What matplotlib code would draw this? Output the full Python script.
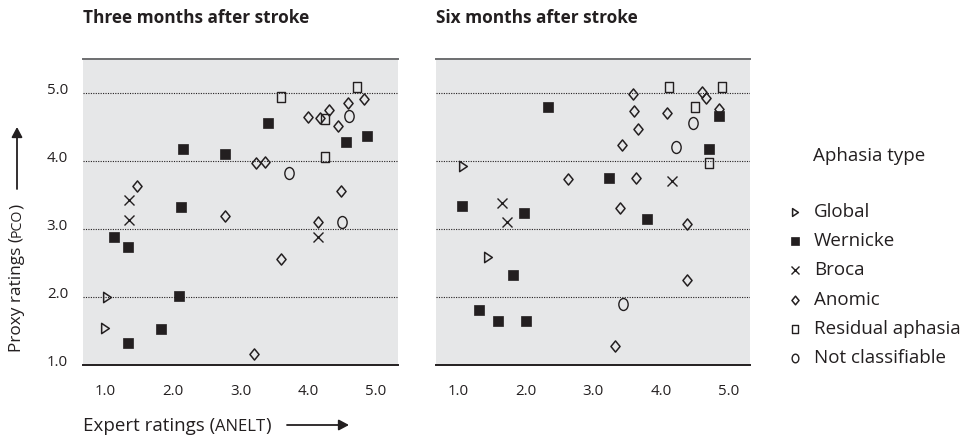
import matplotlib
matplotlib.use("Agg")
import matplotlib.pyplot as plt
from matplotlib.lines import Line2D
from matplotlib.path import Path
from matplotlib.patches import FancyArrowPatch
from matplotlib.transforms import Affine2D, ScaledTranslation
import numpy as np

plt.rcParams['font.family'] = ['Open Sans', 'DejaVu Sans']

titles = ["Three months after stroke", "Six months after stroke"]
types = ["Global", "Wernicke", "Broca", "Anomic", "Residual aphasia", "Not classifiable"]
ticks = [1.0, 2.0, 3.0, 4.0, 5.0]
tick_labels = ["1.0", "2.0", "3.0", "4.0", "5.0"]

# Three months after stroke
m3_global_x = [1.02, 0.99]
m3_global_y = [2.00, 1.54]
m3_wernicke_x = [3.40, 4.55, 4.87, 2.15, 2.76, 2.11, 1.12, 1.33, 2.08, 1.82, 1.33]
m3_wernicke_y = [4.56, 4.28, 4.37, 4.17, 4.10, 3.32, 2.88, 2.74, 2.01, 1.53, 1.32]
m3_broca_x = [1.34, 1.34, 4.14]
m3_broca_y = [3.42, 3.13, 2.88]
m3_anomic_x = [4.82, 4.59, 4.31, 3.99, 4.17, 4.43, 3.22, 3.35, 1.47, 4.48, 2.76, 4.14, 3.60, 3.19]
m3_anomic_y = [4.91, 4.85, 4.75, 4.65, 4.63, 4.51, 3.97, 3.98, 3.63, 3.56, 3.19, 3.10, 2.56, 1.16]
m3_residual_x = [3.60, 4.72, 4.25, 4.25]
m3_residual_y = [4.94, 5.09, 4.62, 4.06]
m3_notcl_x = [4.60, 3.71, 4.49]
m3_notcl_y = [4.66, 3.83, 3.11]

# Six months after stroke
m6_global_x = [1.07, 1.45]
m6_global_y = [3.93, 2.59]
m6_wernicke_x = [2.33, 4.86, 4.72, 3.24, 1.06, 1.97, 3.80, 1.82, 1.31, 1.59, 2.00]
m6_wernicke_y = [4.80, 4.66, 4.17, 3.75, 3.34, 3.24, 3.15, 2.32, 1.81, 1.64, 1.64]
m6_broca_x = [4.16, 1.65, 1.73]
m6_broca_y = [3.71, 3.38, 3.10]
m6_anomic_x = [3.59, 4.61, 4.67, 3.61, 4.09, 4.86, 3.67, 3.43, 2.63, 3.64, 3.40, 4.39, 4.39, 3.32]
m6_anomic_y = [4.99, 5.01, 4.93, 4.74, 4.71, 4.77, 4.47, 4.24, 3.74, 3.75, 3.31, 3.08, 2.25, 1.28]
m6_residual_x = [4.12, 4.90, 4.50, 4.71]
m6_residual_y = [5.09, 5.09, 4.80, 3.97]
m6_notcl_x = [4.48, 4.22, 3.44]
m6_notcl_y = [4.56, 4.21, 1.90]

INK = '#231f20'
BG = '#e6e7e8'

diamond = Path([(0, 1), (0.82, 0), (0, -1), (-0.82, 0), (0, 1)],
               [Path.MOVETO, Path.LINETO, Path.LINETO, Path.LINETO, Path.CLOSEPOLY])
ellipse = Affine2D().scale(0.78, 1.0).transform_path(Path.unit_circle())
rect = Path([(-0.8, -1), (0.8, -1), (0.8, 1), (-0.8, 1), (-0.8, -1)],
            [Path.MOVETO, Path.LINETO, Path.LINETO, Path.LINETO, Path.CLOSEPOLY])
tri = Path([(-0.75, -1), (0.75, 0), (-0.75, 1), (-0.75, -1)],
           [Path.MOVETO, Path.LINETO, Path.LINETO, Path.CLOSEPOLY])

styles = {
    "Global": dict(marker=tri, ms=7.4, mfc='none', mec=INK, mew=1.1),
    "Wernicke": dict(marker='s', ms=7.6, mfc=INK, mec=INK, mew=0.5),
    "Broca": dict(marker='x', ms=6.8, mec=INK, mew=1.0),
    "Anomic": dict(marker=diamond, ms=8.0, mfc='none', mec=INK, mew=1.1),
    "Residual aphasia": dict(marker=rect, ms=7.8, mfc='none', mec=INK, mew=1.0),
    "Not classifiable": dict(marker=ellipse, ms=8.6, mfc='none', mec=INK, mew=1.0),
}

panels = [
    [(m3_global_x, m3_global_y), (m3_wernicke_x, m3_wernicke_y), (m3_broca_x, m3_broca_y),
     (m3_anomic_x, m3_anomic_y), (m3_residual_x, m3_residual_y), (m3_notcl_x, m3_notcl_y)],
    [(m6_global_x, m6_global_y), (m6_wernicke_x, m6_wernicke_y), (m6_broca_x, m6_broca_y),
     (m6_anomic_x, m6_anomic_y), (m6_residual_x, m6_residual_y), (m6_notcl_x, m6_notcl_y)],
]

W, H = 963, 437
fig = plt.figure(figsize=(W / 100, H / 100), dpi=100)
fig.patch.set_facecolor('white')

def px_rect(x0, y0, x1, y1):
    return [x0 / W, 1 - y1 / H, (x1 - x0) / W, (y1 - y0) / H]

axes = [fig.add_axes(px_rect(83.3, 59, 397.7, 365)),
        fig.add_axes(px_rect(435.7, 59, 750, 365))]

for i, ax in enumerate(axes):
    ax.set_facecolor(BG)
    ax.set_xlim(0.67, 5.32)
    ax.set_ylim(1.0, 5.5)
    for s in ['left', 'right']:
        ax.spines[s].set_visible(False)
    ax.spines['top'].set_color('#6d6e70')
    ax.spines['top'].set_linewidth(1.4)
    ax.spines['bottom'].set_color(INK)
    ax.spines['bottom'].set_linewidth(1.4)
    for g in [2.0, 3.0, 4.0, 5.0]:
        ax.axhline(g, color=INK, lw=0.8, ls=(0, (1, 1.2)), zorder=1)
    for name, (xs, ys) in zip(types, panels[i]):
        ax.plot(xs, ys, ls='none', zorder=3, **styles[name])
    ax.set_xticks(ticks)
    ax.set_xticklabels(tick_labels)
    ax.tick_params(axis='x', length=0, pad=14, labelsize=10.8, labelcolor=INK)
    if i == 0:
        ax.set_yticks(ticks)
        ax.set_yticklabels(tick_labels)
        ax.tick_params(axis='y', length=0, pad=11, labelsize=10.8, labelcolor=INK)
        off = ScaledTranslation(0, 4 / 100, fig.dpi_scale_trans)
        for lab in ax.get_yticklabels():
            lab.set_transform(lab.get_transform() + off)
    else:
        ax.set_yticks([])
    fig.text((83.3 if i == 0 else 435.7) / W, 1 - 18 / H, titles[i], fontsize=12.4,
             fontweight='bold', color=INK, ha='left', va='center')

renderer = fig.canvas.get_renderer()

def arrow(x0, y0, x1, y1):
    a = FancyArrowPatch((x0 / W, 1 - y0 / H), (x1 / W, 1 - y1 / H),
                        transform=fig.transFigure,
                        arrowstyle='-|>,head_length=6,head_width=3.2',
                        color=INK, lw=1.3, shrinkA=0, shrinkB=0)
    fig.add_artist(a)

LAB = 13.5

# x axis label with small caps piece
x = 83 / W
yb = 1 - 431 / H
for txt, fs in [("Expert ratings (", LAB), ("ANELT", 12.0), (")", LAB)]:
    t = fig.text(x, yb, txt, fontsize=fs, color=INK, ha='left', va='baseline')
    bb = t.get_window_extent(renderer)
    x += bb.width / W
arrow(287, 425, 349, 425)

# y axis label (rotated) with small caps piece
xb = 21 / W
y = 1 - 352 / H
for txt, fs in [("Proxy ratings (", 12.4), ("PCO", 10.2), (")", 12.4)]:
    t = fig.text(xb, y, txt, fontsize=fs, color=INK, ha='left', va='baseline',
                 rotation=90, rotation_mode='anchor')
    bb = t.get_window_extent(renderer)
    y += bb.height / H
arrow(17, 189, 17, 127)

# legend
fig.text(813 / W, 1 - 156 / H, "Aphasia type", fontsize=LAB, color=INK, ha='left', va='center')
leg_y = [211.7, 241, 270, 300, 329, 357.7]
leg_sizes = {"Global": 5.6, "Wernicke": 6.0, "Broca": 5.2, "Anomic": 6.2,
             "Residual aphasia": 6.2, "Not classifiable": 6.2}
for name, yy in zip(types, leg_y):
    st = dict(styles[name])
    st['ms'] = leg_sizes[name]
    fig.add_artist(Line2D([795 / W], [1 - yy / H], transform=fig.transFigure, ls='none', **st))
    fig.text(814 / W, 1 - yy / H, name, fontsize=LAB, color=INK, ha='left', va='center')

fig.savefig('out.png', dpi=100, facecolor='white')
